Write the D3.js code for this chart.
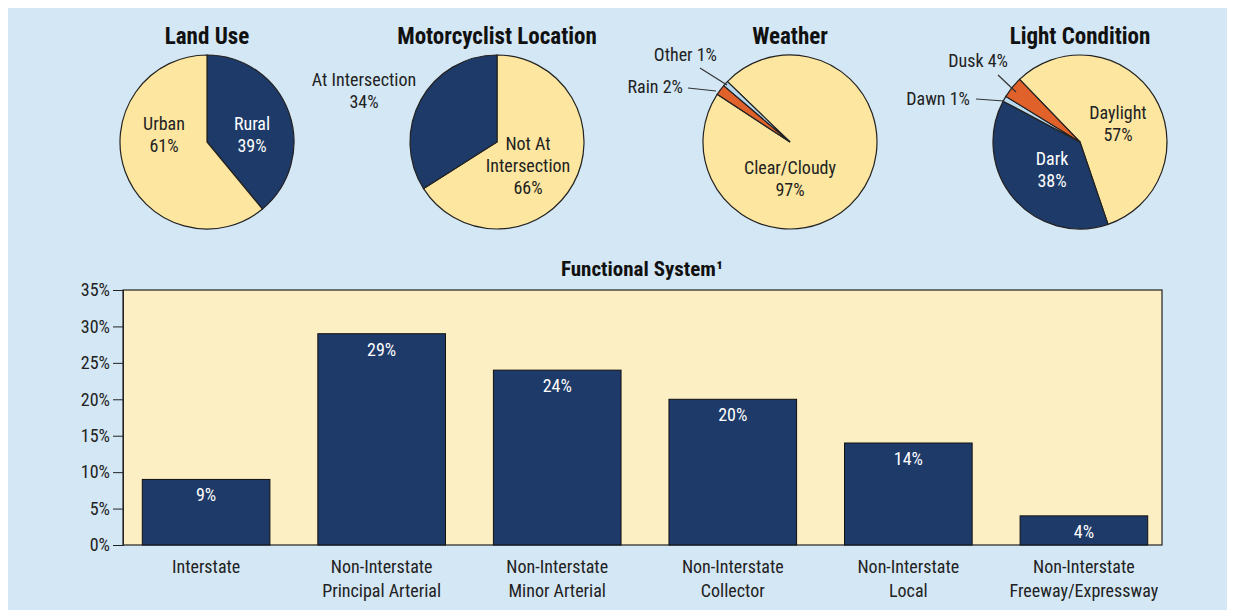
<!DOCTYPE html>
<html><head><meta charset="utf-8">
<script src="https://cdn.jsdelivr.net/npm/d3@7"></script>
<style>
body{margin:0;background:#fff;}
text{font-family:"Liberation Sans Narrow","Roboto Condensed",sans-serif;}
</style></head><body>
<svg id="chart" width="1235" height="614"></svg>
<script>
// pie data
const landUse = [{label:"Rural", value:39}, {label:"Urban", value:61}];
const riderLocation = [{label:"Not At Intersection", value:66}, {label:"At Intersection", value:34}];
const weather = [{label:"Clear/Cloudy", value:97}, {label:"Rain", value:2}, {label:"Other", value:1}];
const light = [{label:"Daylight", value:57}, {label:"Dark", value:38}, {label:"Dawn", value:1}, {label:"Dusk", value:4}];

// bar data
const systems = ["Interstate|", "Non-Interstate|Principal Arterial", "Non-Interstate|Minor Arterial",
  "Non-Interstate|Collector", "Non-Interstate|Local", "Non-Interstate|Freeway/Expressway"];
const shares = [9, 29, 24, 20, 14, 4];
const yTicks = [0, 5, 10, 15, 20, 25, 30, 35];

const navy = "#1e3a68", cream = "#fde7a0", orange = "#e0622a", sky = "#b9d9ef";
const colors = {Rural:navy, Urban:cream, "Not At Intersection":cream, "At Intersection":navy,
  "Clear/Cloudy":cream, Other:sky, Rain:orange, Daylight:cream, Dark:navy, Dawn:sky, Dusk:orange};

const svg = d3.select("#chart");
svg.append("rect").attr("x", 8).attr("y", 8).attr("width", 1219).attr("height", 602).attr("fill", "#d4e7f5");

const R = 87;
const arc = d3.arc().innerRadius(0).outerRadius(R);

function pie(data, cx, title, start, labels) {
  const g = svg.append("g").attr("transform", `translate(${cx},142)`);
  const toRad = a => a * Math.PI / 180;
  const arcs = d3.pie().sort(null).value(d => d.value)
    .startAngle(toRad(start)).endAngle(toRad(start + 360))(data);
  g.selectAll("path").data(arcs).join("path")
    .attr("d", arc).attr("fill", d => colors[d.data.label])
    .attr("stroke", "#222").attr("stroke-width", 1.2);
  svg.append("text").attr("x", cx).attr("y", 44).attr("text-anchor", "middle")
    .attr("font-size", 23).attr("font-weight", "bold").attr("fill", "#111").text(title);
  labels.forEach(l => {
    const t = svg.append("text").attr("x", l.x).attr("y", l.y).attr("text-anchor", l.anchor || "middle")
      .attr("font-size", 18).attr("fill", l.fill || "#222");
    l.lines.forEach((s, i) => t.append("tspan").attr("x", l.x).attr("dy", i ? 22 : 0).text(s));
    if (l.line) svg.append("line").attr("x1", l.line[0]).attr("y1", l.line[1]).attr("x2", l.line[2]).attr("y2", l.line[3])
      .attr("stroke", "#333").attr("stroke-width", 1.2);
  });
}

pie(landUse, 207, "Land Use", 0, [
  {x:252, y:130, lines:["Rural", "39%"], fill:"#fff"},
  {x:164, y:130, lines:["Urban", "61%"]}]);
pie(riderLocation, 497, "Motorcyclist Location", 0, [
  {x:528, y:150, lines:["Not At", "Intersection", "66%"]},
  {x:364, y:86, lines:["At Intersection", "34%"]}]);
pie(weather, 790, "Weather", -46, [
  {x:790, y:174, lines:["Clear/Cloudy", "97%"]},
  {x:717, y:61, lines:["Other 1%"], anchor:"end", line:[700, 68, 727, 85]},
  {x:683, y:93, lines:["Rain 2%"], anchor:"end", line:[688, 88, 716, 91]}]);
pie(light, 1080, "Light Condition", -44, [
  {x:1118, y:119, lines:["Daylight", "57%"]},
  {x:1052, y:165, lines:["Dark", "38%"], fill:"#fff"},
  {x:1008, y:67, lines:["Dusk 4%"], anchor:"end", line:[998, 75, 1016, 92]},
  {x:970, y:105, lines:["Dawn 1%"], anchor:"end", line:[976, 99, 1004, 101]}]);

// bar chart
const x = d3.scaleBand().domain(systems).range([130, 1160]).paddingInner(0.273).paddingOuter(0.07);
const y = d3.scaleLinear().domain([0, 35]).range([545, 290]);

svg.append("rect").attr("x", 123).attr("y", 290).attr("width", 1039).attr("height", 255)
  .attr("fill", "#fdefc4").attr("stroke", "#222").attr("stroke-width", 1.2);
svg.append("text").attr("x", 642).attr("y", 276).attr("text-anchor", "middle")
  .attr("font-size", 21).attr("font-weight", "bold").attr("fill", "#111").text("Functional System¹");

const yAxis = svg.append("g").attr("transform", "translate(123,0)")
  .call(d3.axisLeft(y).tickValues(yTicks).tickFormat(d => d + "%").tickSize(10));
yAxis.select(".domain").attr("stroke", "#222");
yAxis.selectAll("line").attr("stroke", "#222");
yAxis.selectAll("text").attr("font-size", 18).attr("fill", "#222").attr("font-family", "Liberation Sans Narrow, sans-serif");

svg.selectAll(".bar").data(shares).join("rect")
  .attr("x", (d, i) => x(systems[i])).attr("width", x.bandwidth())
  .attr("y", d => y(d)).attr("height", d => y(0) - y(d))
  .attr("fill", navy).attr("stroke", "#111").attr("stroke-width", 1);
svg.selectAll(".blabel").data(shares).join("text")
  .attr("x", (d, i) => x(systems[i]) + x.bandwidth() / 2).attr("y", d => y(d) + 22)
  .attr("text-anchor", "middle").attr("font-size", 18).attr("fill", "#fff").text(d => d + "%");

systems.forEach(s => {
  const [a, b] = s.split("|");
  const t = svg.append("text").attr("x", x(s) + x.bandwidth() / 2).attr("y", 573)
    .attr("text-anchor", "middle").attr("font-size", 18).attr("fill", "#222");
  t.append("tspan").attr("x", x(s) + x.bandwidth() / 2).text(a);
  if (b) t.append("tspan").attr("x", x(s) + x.bandwidth() / 2).attr("dy", 24).text(b);
});
</script></body></html>
